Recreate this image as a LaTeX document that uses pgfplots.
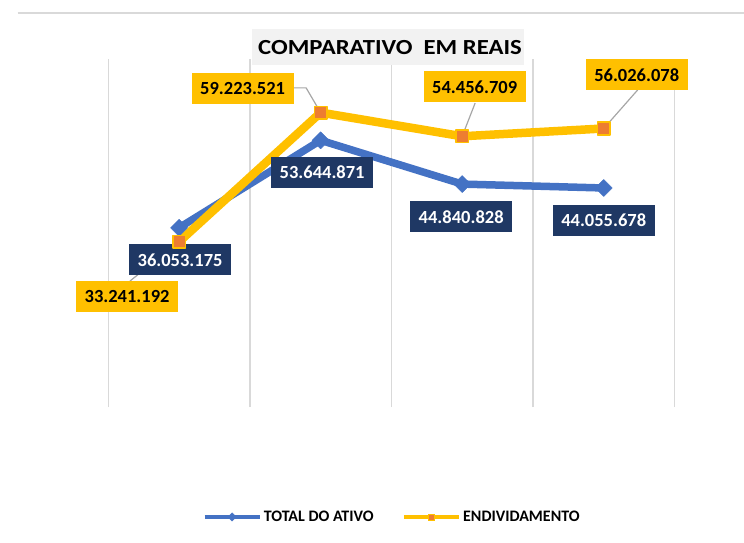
\documentclass[border=0pt]{standalone}
\usepackage{fontspec}
\setmainfont{Carlito}
\usepackage{pgfplots}
\pgfplotsset{compat=1.18}

\definecolor{serieA}{HTML}{4472C4}
\definecolor{serieB}{HTML}{FFC000}
\definecolor{markB}{HTML}{ED7D31}
\definecolor{navy}{HTML}{1F3864}
\definecolor{gridgray}{HTML}{D9D9D9}
\definecolor{leader}{HTML}{A6A6A6}
\definecolor{titlebg}{HTML}{F2F2F2}

\begin{document}
\begin{tikzpicture}[
    lblA/.style={fill=navy, text=white, inner sep=0pt, minimum width=102pt, minimum height=31pt,
        font=\fontsize{18.5}{20}\selectfont\bfseries},
    lblB/.style={fill=serieB, text=black, inner sep=0pt, minimum width=102pt, minimum height=31pt,
        font=\fontsize{18.5}{20}\selectfont\bfseries},
    lead/.style={draw=leader, line width=1.2pt},
]
\path[use as bounding box] (0pt,0pt) rectangle (744pt,542pt);
% top border line
\draw[gridgray, line width=2pt] (17.7pt,529.3pt) -- (744pt,529.3pt);

\begin{axis}[
    at={(108.3pt,135pt)}, anchor=south west,
    scale only axis,
    width=566.2pt, height=348pt,
    xmin=-0.5, xmax=3.5,
    ymin=0, ymax=70000000,
    axis line style={draw=none},
    xtick={-0.5,0.5,1.5,2.5,3.5},
    xticklabels={},
    ytick=\empty,
    major tick length=0pt,
    xmajorgrids,
    grid style={draw=gridgray, line width=1.5pt},
    clip=false,
    legend style={at={(0.501,-0.316)}, anchor=center, draw=none, fill=none,
        legend columns=2, font=\fontsize{16}{18}\selectfont\bfseries,
        /tikz/every even column/.append style={column sep=26pt},
        nodes={inner sep=2pt}},
    legend cell align=left,
    legend image code/.code={
        \draw[mark repeat=2,mark phase=2,#1] plot coordinates {(0pt,0pt) (27.5pt,0pt) (55pt,0pt)};
    },
]
\addplot[serieA, line width=7.5pt, line join=round, mark=square*, mark size=6pt,
    mark options={solid, rotate=45, line width=0.5pt, fill=serieA}, forget plot]
    coordinates {(0,36053175) (1,53644871) (2,44840828) (3,44055678)};
\addplot[serieB, line width=8.5pt, line join=round, mark=square*, mark size=6.3pt,
    mark options={solid, line width=1.5pt, draw=serieB, fill=markB}, forget plot]
    coordinates {(0,33241192) (1,59223521) (2,54456709) (3,56026078)};

\addlegendimage{serieA, line width=4.5pt, mark=square*, mark size=3pt,
    mark options={solid, rotate=45, line width=0.3pt, fill=serieA}}
\addlegendentry{TOTAL DO ATIVO}
\addlegendimage{serieB, line width=4.5pt, mark=square*, mark size=3pt,
    mark options={solid, line width=0.8pt, draw=serieB, fill=markB}}
\addlegendentry{ENDIVIDAMENTO}

% leader lines
\draw[lead] (axis cs:0,33241192) -- ++(-49pt,-39.2pt);
\draw[lead] (axis cs:1,59223521) -- ++(-14.5pt,24.7pt) -- ++(-13pt,0pt);
\draw[lead] (axis cs:2,54456709) -- ++(13pt,33.3pt);
\draw[lead] (axis cs:3,56026078) -- ++(34pt,38.6pt);

% data labels
\node[lblA] at ([xshift=1pt,yshift=-32.2pt]axis cs:0,36053175) {36.053.175};
\node[lblA] at ([xshift=1.5pt,yshift=-32.1pt]axis cs:1,53644871) {53.644.871};
\node[lblA] at ([xshift=-1pt,yshift=-32.9pt]axis cs:2,44840828) {44.840.828};
\node[lblA] at ([xshift=0pt,yshift=-32.5pt]axis cs:3,44055678) {44.055.678};
\node[lblB] at ([xshift=-52pt,yshift=-54.7pt]axis cs:0,33241192) {33.241.192};
\node[lblB] at ([xshift=-78pt,yshift=23.7pt]axis cs:1,59223521) {59.223.521};
\node[lblB] at ([xshift=12.5pt,yshift=49.3pt]axis cs:2,54456709) {54.456.709};
\node[lblB] at ([xshift=33pt,yshift=53.6pt]axis cs:3,56026078) {56.026.078};
\end{axis}

% title
\fill[titlebg] (252pt,477pt) rectangle (524pt,513pt);
\node[anchor=base, inner sep=0pt, font=\fontsize{21.5}{23}\selectfont\bfseries]
    at (390pt,487pt) {\scalebox{1.15}[1]{COMPARATIVO\ \ EM REAIS}};
\end{tikzpicture}
\end{document}
